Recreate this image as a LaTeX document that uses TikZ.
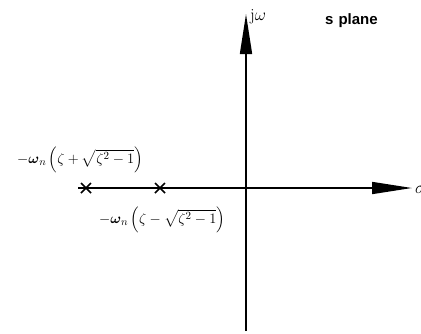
\documentclass[tikz,border=0pt]{standalone}
\usepackage{fontspec}
\usepackage{amsmath}
\newfontfamily\planefont{Liberation Sans}
\usetikzlibrary{arrows.meta, positioning, calc}

\tikzset{
  axis/.style={line width=1.6pt, -{Triangle[length=40pt, width=12pt]}},
  pole/.style={line width=1.5pt},
  rootlabel/.style={inner sep=0pt, font=\fontsize{15.2}{18}\selectfont}
}

\begin{document}
\begin{tikzpicture}[x=1pt, y=-1pt]
        \useasboundingbox (0,0) rectangle (421,333);
        \coordinate (left) at (78,188);
        \coordinate (right) at (412,188);
        \coordinate (bottom) at (246,331);
        \coordinate (top) at (246,14);
        \draw[axis] (left) -- (right);
        \draw[axis] (bottom) -- (top);

        % poles
        \coordinate (p1) at (86,188);
        \coordinate (p2) at (160,188);
        \foreach \p in {p1, p2}
            \draw[pole] ($(\p)+(-5,-5)$) -- ($(\p)+(5,5)$) ($(\p)+(-5,5)$) -- ($(\p)+(5,-5)$);

        \node[rootlabel] (far) at (80,160) {$-\boldsymbol{\omega}_n\left(\zeta+\sqrt{\zeta^2-1}\right)$};
        \node[rootlabel] (near) at (162,220) {$-\boldsymbol{\omega}_n\left(\zeta-\sqrt{\zeta^2-1}\right)$};
        \node[anchor=west, inner sep=0pt, font=\fontsize{17}{19}\selectfont] (jw) at (250,17) {j$\omega$};
        \node[anchor=west, inner sep=0pt, font=\planefont\bfseries\fontsize{15}{17}\selectfont] (splane) at (325,21) {s\,\,plane};
        \node[anchor=west, inner sep=0pt, font=\fontsize{17}{19}\selectfont] (sigma) at (415,190) {$\sigma$};
\end{tikzpicture}
\end{document}
